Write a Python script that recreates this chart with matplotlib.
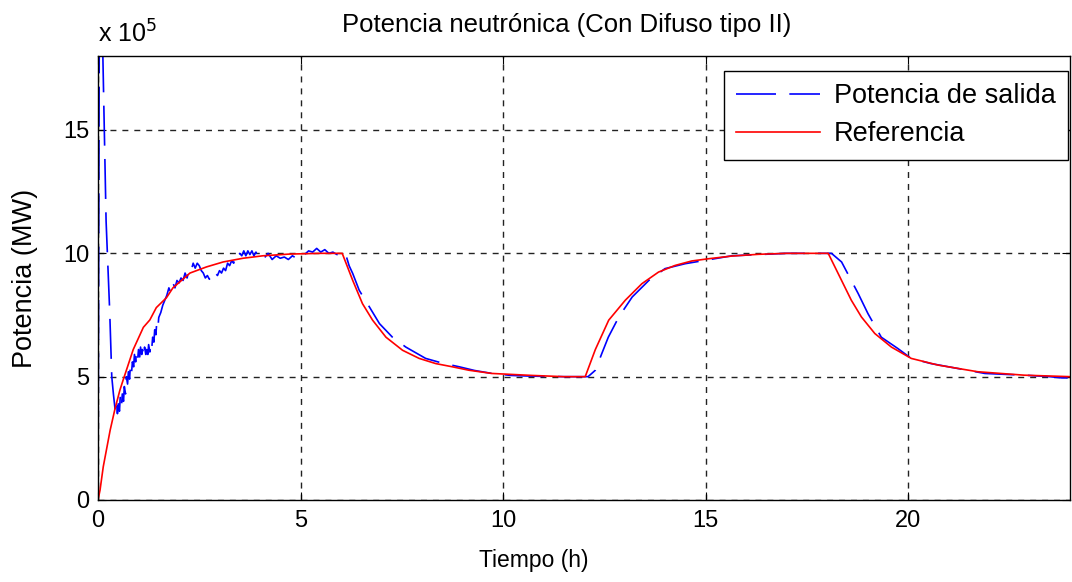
import matplotlib
matplotlib.use('Agg')
import matplotlib.pyplot as plt
from matplotlib.ticker import FuncFormatter

plt.rcParams['font.family'] = ['Liberation Sans', 'DejaVu Sans']

# potencia de salida (x 10^5 MW)
t_salida = [0, 0.02, 0.05, 0.12, 0.2, 0.29, 0.31, 0.34, 0.38, 0.42, 0.45, 0.48, 0.5, 0.53,
            0.55, 0.58, 0.6, 0.63, 0.65, 0.68, 0.7, 0.73, 0.75, 0.78, 0.8, 0.83, 0.85,
            0.88, 0.9, 0.93, 0.95, 0.98, 1.0, 1.03, 1.05, 1.08, 1.1, 1.13, 1.15, 1.18,
            1.2, 1.23, 1.25, 1.28, 1.3, 1.33, 1.35, 1.38, 1.4, 1.43, 1.45, 1.48, 1.5,
            1.55, 1.6, 1.65, 1.7, 1.75, 1.8, 1.85, 1.9, 1.95, 2.0, 2.05, 2.1, 2.15, 2.2,
            2.25, 2.3, 2.35, 2.4, 2.45, 2.5, 2.55, 2.6, 2.65, 2.7, 2.75, 2.8, 2.85, 2.9,
            2.95, 3.0, 3.05, 3.1, 3.15, 3.2, 3.25, 3.3, 3.35, 3.4, 3.45, 3.5, 3.55, 3.6,
            3.65, 3.7, 3.75, 3.8, 3.85, 3.9, 3.95, 4.0, 4.1, 4.2, 4.3, 4.4, 4.5, 4.6,
            4.7, 4.8, 4.9, 5.0, 5.1, 5.2, 5.3, 5.4, 5.5, 5.6, 5.7, 5.8, 5.9, 6.0, 6.1,
            6.2, 6.29, 6.45, 6.7, 6.95, 7.27, 7.6, 8.09, 8.5, 8.92, 9.3, 9.73, 10.2,
            10.72, 11.5, 12.1, 12.28, 12.44, 12.6, 12.86, 13.19, 13.6, 14.0, 14.5, 15.0,
            15.65, 16.3, 17.0, 18.11, 18.36, 18.6, 18.77, 19.01, 19.34, 19.75, 20.08,
            20.57, 21.23, 21.9, 22.87, 23.5, 23.8, 24.0]
p_salida = [0, 12, 30, 18, 11.3, 7.6, 6.5, 5.0, 4.3, 3.7, 4.1, 3.5, 3.9, 3.6,
            4.2, 3.8, 4.3, 4.0, 4.6, 4.3, 5.0, 4.7, 5.2, 4.9, 5.5, 5.2, 5.6,
            5.4, 5.9, 5.6, 6.0, 5.7, 6.1, 5.8, 6.2, 5.9, 6.1, 5.8, 6.2, 5.9,
            6.1, 5.9, 6.3, 6.0, 6.4, 6.2, 6.6, 6.4, 6.9, 6.7, 7.2, 7.0, 7.4,
            7.6, 7.9, 8.1, 8.3, 8.6, 8.4, 8.8, 8.6, 8.9, 8.8, 9.0, 8.9, 9.2, 9.0,
            9.4, 9.3, 9.6, 9.4, 9.6, 9.5, 9.3, 9.2, 9.0, 9.1, 8.95, 9.1, 9.0, 9.2,
            9.1, 9.3, 9.2, 9.4, 9.3, 9.6, 9.5, 9.7, 9.6, 9.9, 9.8, 10.0, 9.9, 10.1,
            9.9, 10.1, 9.95, 10.1, 9.9, 10.05, 9.85, 9.95, 9.8, 10.0, 9.75, 9.9, 9.8, 9.85,
            9.75, 9.9, 9.8, 10.0, 9.95, 10.1, 10.05, 10.2, 10.05, 10.15, 10.0, 10.05, 9.95, 10.0, 10.05,
            9.5, 9.18, 8.5, 7.83, 7.15, 6.6, 6.2, 5.74, 5.55, 5.4, 5.25, 5.13, 5.05,
            5.02, 5.0, 5.0, 5.26, 5.94, 6.6, 7.42, 8.23, 8.9, 9.38, 9.58, 9.72,
            9.9, 9.95, 10.0, 10.0, 9.65, 8.9, 8.37, 7.56, 6.6, 6.14, 5.74,
            5.53, 5.33, 5.13, 5.06, 5.0, 4.95, 4.95]

# referencia (x 10^5 MW)
t_ref = [0, 0.05, 0.13, 0.3, 0.42, 0.54, 0.62, 0.87, 1.12, 1.28, 1.44, 1.69, 1.85, 2.27,
         2.68, 3.09, 3.58, 4.07, 4.73, 5.5, 6.03, 6.29, 6.53, 6.78, 7.11, 7.52, 7.93,
         8.34, 8.75, 9.16, 9.73, 10.72, 11.5, 12.03, 12.28, 12.61, 13.02, 13.43, 13.84,
         14.25, 14.66, 15.07, 15.65, 16.3, 17.0, 18.03, 18.36, 18.6, 18.85, 19.18,
         19.59, 20.08, 20.74, 21.72, 22.87, 24.0]
p_ref = [0, 0.4, 1.35, 2.83, 3.7, 4.45, 4.86, 6.1, 7.0, 7.3, 7.8, 8.2, 8.6, 9.2,
         9.45, 9.65, 9.8, 9.9, 9.97, 10.0, 10.0, 8.9, 7.96, 7.29, 6.6, 6.07, 5.74,
         5.53, 5.4, 5.26, 5.13, 5.05, 5.0, 5.0, 6.1, 7.29, 8.1, 8.77, 9.24,
         9.51, 9.69, 9.78, 9.89, 9.96, 10.0, 10.0, 8.9, 8.1, 7.42, 6.75,
         6.2, 5.74, 5.47, 5.2, 5.06, 5.0]

escala = 1e5
x_ticks = [0, 5, 10, 15, 20]
y_ticks = [0, 5, 10, 15]

W, H = 1072, 582
fig = plt.figure(figsize=(W / 100, H / 100), dpi=100)
ax = fig.add_axes([98 / W, 1 - 500 / H, (1070 - 98) / W, (500 - 56) / H])

ax.plot(t_salida, [v * escala for v in p_salida], color='#0000ff', lw=1.2,
        dashes=(24, 8), label='Potencia de salida')
ax.plot(t_ref, [v * escala for v in p_ref], color='#ff0000', lw=1.2, label='Referencia')

ax.set_xlim(0, 24)
ax.set_ylim(0, 18e5)
ax.set_xticks(x_ticks)
ax.set_yticks([v * escala for v in y_ticks])
ax.yaxis.set_major_formatter(FuncFormatter(lambda v, p: '%d' % round(v / escala)))
ax.grid(True, color='#222222', lw=1.0, dashes=(4.3, 4.3))
ax.tick_params(direction='in', length=6, width=0.8, top=True, right=True,
               labelsize=17, colors='black')
ax.tick_params(axis='x', pad=7)
ax.tick_params(axis='y', pad=6)
for s in ax.spines.values():
    s.set_linewidth(1.0)

fig.text(567 / W, 1 - 25 / H, 'Potencia neutrónica (Con Difuso tipo II)', fontsize=18.5,
         ha='center', va='center')
fig.text(534 / W, 1 - 561 / H, 'Tiempo (h)', fontsize=16.5, ha='center', va='center')
fig.text(25 / W, 1 - 278 / H, 'Potencia (MW)', fontsize=19.5, ha='center', va='center',
         rotation=90)
fig.text(98 / W, 1 - 43 / H, r'x 10$^{5}$', fontsize=18, ha='left', va='baseline')

leg = ax.legend(loc='upper right', bbox_to_anchor=(0.998, 0.966), borderaxespad=0,
                fontsize=19.5, fancybox=False, framealpha=1, edgecolor='black',
                handlelength=3.1, handletextpad=0.5, labelspacing=0.45, borderpad=0.45)
leg.get_frame().set_linewidth(1.0)

fig.savefig('out.png', dpi=100)
